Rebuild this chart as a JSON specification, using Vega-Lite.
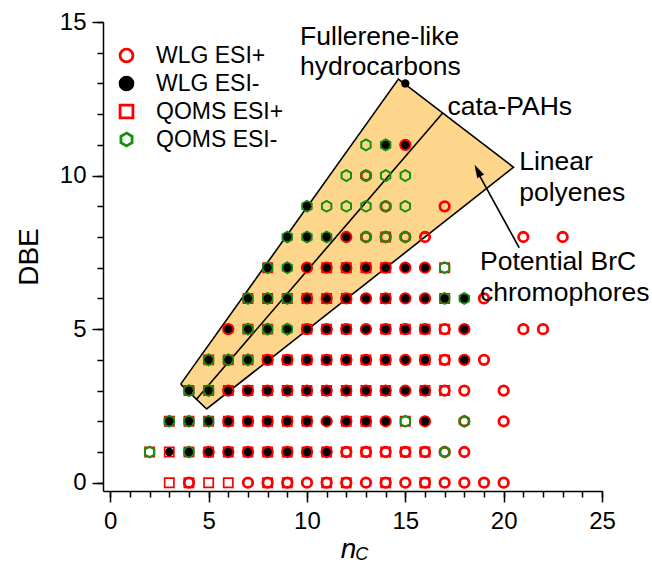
{
 "$schema": "https://vega.github.io/schema/vega-lite/v6.json",
 "width": 499, "height": 469,
 "autosize": {"type": "none"},
 "padding": {"left": 103, "top": 22, "right": 50, "bottom": 82},
 "background": "white",
 "config": {"view": {"stroke": null}, "font": "Liberation Sans"},
 "datasets": {
  "poly": [
   {"n": 3.58, "top": 3.21, "bot": 3.21},
   {"n": 4.90, "top": 4.394, "bot": 2.40},
   {"n": 14.65, "top": 13.14, "bot": 7.319},
   {"n": 20.50, "top": 10.27, "bot": 10.27}
  ],
  "lines": [
   {"g": "outline", "o": 1, "n": 3.58, "d": 3.21},
   {"g": "outline", "o": 2, "n": 14.65, "d": 13.14},
   {"g": "outline", "o": 3, "n": 20.50, "d": 10.27},
   {"g": "outline", "o": 4, "n": 4.90, "d": 2.40},
   {"g": "outline", "o": 5, "n": 3.58, "d": 3.21},
   {"g": "mid", "o": 1, "n": 4.36, "d": 2.70},
   {"g": "mid", "o": 2, "n": 16.89, "d": 12.03},
   {"g": "arrow", "o": 1, "n": 20.79, "d": 7.65},
   {"g": "arrow", "o": 2, "n": 18.6, "d": 10.2}
  ],
  "head": [{"n": 18.52, "d": 10.35}],
  "labels": [
   {"t": "Fullerene-like", "n": 9.65, "d": 14.51},
   {"t": "hydrocarbons", "n": 9.65, "d": 13.54},
   {"t": "cata-PAHs", "n": 17.14, "d": 12.24},
   {"t": "Linear", "n": 20.79, "d": 10.45},
   {"t": "polyenes", "n": 20.79, "d": 9.44},
   {"t": "Potential BrC", "n": 18.80, "d": 7.19},
   {"t": "chromophores", "n": 18.80, "d": 6.18}
  ],
  "sub": [{"t": "C", "n": 12.78, "d": -2.36}],
  "pts": [
   {"s":"WLG ESI+","n":4,"d":0},{"s":"WLG ESI+","n":7,"d":0},{"s":"WLG ESI+","n":8,"d":0},{"s":"WLG ESI+","n":9,"d":0},{"s":"WLG ESI+","n":10,"d":0},{"s":"WLG ESI+","n":11,"d":0},{"s":"WLG ESI+","n":12,"d":0},{"s":"WLG ESI+","n":13,"d":0},{"s":"WLG ESI+","n":14,"d":0},{"s":"WLG ESI+","n":15,"d":0},{"s":"WLG ESI+","n":16,"d":0},{"s":"WLG ESI+","n":17,"d":0},{"s":"WLG ESI+","n":18,"d":0},{"s":"WLG ESI+","n":19,"d":0},{"s":"WLG ESI+","n":20,"d":0},
   {"s":"WLG ESI+","n":5,"d":1},{"s":"WLG ESI+","n":6,"d":1},{"s":"WLG ESI+","n":7,"d":1},{"s":"WLG ESI+","n":8,"d":1},{"s":"WLG ESI+","n":9,"d":1},{"s":"WLG ESI+","n":10,"d":1},{"s":"WLG ESI+","n":11,"d":1},{"s":"WLG ESI+","n":12,"d":1},{"s":"WLG ESI+","n":13,"d":1},{"s":"WLG ESI+","n":14,"d":1},{"s":"WLG ESI+","n":15,"d":1},{"s":"WLG ESI+","n":16,"d":1},{"s":"WLG ESI+","n":17,"d":1},{"s":"WLG ESI+","n":18,"d":1},
   {"s":"WLG ESI+","n":6,"d":2},{"s":"WLG ESI+","n":7,"d":2},{"s":"WLG ESI+","n":8,"d":2},{"s":"WLG ESI+","n":9,"d":2},{"s":"WLG ESI+","n":10,"d":2},{"s":"WLG ESI+","n":11,"d":2},{"s":"WLG ESI+","n":12,"d":2},{"s":"WLG ESI+","n":13,"d":2},{"s":"WLG ESI+","n":14,"d":2},{"s":"WLG ESI+","n":16,"d":2},{"s":"WLG ESI+","n":18,"d":2},{"s":"WLG ESI+","n":20,"d":2},
   {"s":"WLG ESI+","n":6,"d":3},{"s":"WLG ESI+","n":7,"d":3},{"s":"WLG ESI+","n":8,"d":3},{"s":"WLG ESI+","n":9,"d":3},{"s":"WLG ESI+","n":10,"d":3},{"s":"WLG ESI+","n":11,"d":3},{"s":"WLG ESI+","n":12,"d":3},{"s":"WLG ESI+","n":13,"d":3},{"s":"WLG ESI+","n":14,"d":3},{"s":"WLG ESI+","n":15,"d":3},{"s":"WLG ESI+","n":16,"d":3},{"s":"WLG ESI+","n":17,"d":3},{"s":"WLG ESI+","n":18,"d":3},{"s":"WLG ESI+","n":20,"d":3},
   {"s":"WLG ESI+","n":8,"d":4},{"s":"WLG ESI+","n":9,"d":4},{"s":"WLG ESI+","n":10,"d":4},{"s":"WLG ESI+","n":11,"d":4},{"s":"WLG ESI+","n":12,"d":4},{"s":"WLG ESI+","n":13,"d":4},{"s":"WLG ESI+","n":14,"d":4},{"s":"WLG ESI+","n":15,"d":4},{"s":"WLG ESI+","n":16,"d":4},{"s":"WLG ESI+","n":17,"d":4},{"s":"WLG ESI+","n":18,"d":4},{"s":"WLG ESI+","n":19,"d":4},
   {"s":"WLG ESI+","n":6,"d":5},{"s":"WLG ESI+","n":10,"d":5},{"s":"WLG ESI+","n":11,"d":5},{"s":"WLG ESI+","n":12,"d":5},{"s":"WLG ESI+","n":13,"d":5},{"s":"WLG ESI+","n":14,"d":5},{"s":"WLG ESI+","n":15,"d":5},{"s":"WLG ESI+","n":16,"d":5},{"s":"WLG ESI+","n":17,"d":5},{"s":"WLG ESI+","n":18,"d":5},{"s":"WLG ESI+","n":21,"d":5},{"s":"WLG ESI+","n":22,"d":5},
   {"s":"WLG ESI+","n":10,"d":6},{"s":"WLG ESI+","n":11,"d":6},{"s":"WLG ESI+","n":12,"d":6},{"s":"WLG ESI+","n":13,"d":6},{"s":"WLG ESI+","n":14,"d":6},{"s":"WLG ESI+","n":15,"d":6},{"s":"WLG ESI+","n":16,"d":6},{"s":"WLG ESI+","n":19,"d":6},
   {"s":"WLG ESI+","n":10,"d":7},{"s":"WLG ESI+","n":11,"d":7},{"s":"WLG ESI+","n":12,"d":7},{"s":"WLG ESI+","n":13,"d":7},{"s":"WLG ESI+","n":14,"d":7},{"s":"WLG ESI+","n":15,"d":7},{"s":"WLG ESI+","n":16,"d":7},
   {"s":"WLG ESI+","n":12,"d":8},{"s":"WLG ESI+","n":13,"d":8},{"s":"WLG ESI+","n":14,"d":8},{"s":"WLG ESI+","n":15,"d":8},{"s":"WLG ESI+","n":16,"d":8},{"s":"WLG ESI+","n":21,"d":8},{"s":"WLG ESI+","n":23,"d":8},
   {"s":"WLG ESI+","n":14,"d":9},{"s":"WLG ESI+","n":17,"d":9},
   {"s":"WLG ESI+","n":13,"d":10},
   {"s":"WLG ESI+","n":15,"d":11},
   {"s":"QOMS ESI+","n":3,"d":0},{"s":"QOMS ESI+","n":4,"d":0},{"s":"QOMS ESI+","n":5,"d":0},{"s":"QOMS ESI+","n":6,"d":0},{"s":"QOMS ESI+","n":8,"d":0},{"s":"QOMS ESI+","n":9,"d":0},{"s":"QOMS ESI+","n":11,"d":0},{"s":"QOMS ESI+","n":12,"d":0},{"s":"QOMS ESI+","n":14,"d":0},{"s":"QOMS ESI+","n":16,"d":0},
   {"s":"QOMS ESI+","n":2,"d":1},{"s":"QOMS ESI+","n":3,"d":1},{"s":"QOMS ESI+","n":4,"d":1},{"s":"QOMS ESI+","n":5,"d":1},{"s":"QOMS ESI+","n":6,"d":1},{"s":"QOMS ESI+","n":7,"d":1},{"s":"QOMS ESI+","n":8,"d":1},{"s":"QOMS ESI+","n":9,"d":1},{"s":"QOMS ESI+","n":10,"d":1},{"s":"QOMS ESI+","n":11,"d":1},{"s":"QOMS ESI+","n":12,"d":1},{"s":"QOMS ESI+","n":13,"d":1},{"s":"QOMS ESI+","n":14,"d":1},{"s":"QOMS ESI+","n":15,"d":1},{"s":"QOMS ESI+","n":16,"d":1},
   {"s":"QOMS ESI+","n":3,"d":2},{"s":"QOMS ESI+","n":4,"d":2},{"s":"QOMS ESI+","n":5,"d":2},{"s":"QOMS ESI+","n":6,"d":2},{"s":"QOMS ESI+","n":7,"d":2},{"s":"QOMS ESI+","n":8,"d":2},{"s":"QOMS ESI+","n":9,"d":2},{"s":"QOMS ESI+","n":10,"d":2},{"s":"QOMS ESI+","n":12,"d":2},{"s":"QOMS ESI+","n":13,"d":2},{"s":"QOMS ESI+","n":15,"d":2},
   {"s":"QOMS ESI+","n":4,"d":3},{"s":"QOMS ESI+","n":5,"d":3},{"s":"QOMS ESI+","n":6,"d":3},{"s":"QOMS ESI+","n":7,"d":3},{"s":"QOMS ESI+","n":8,"d":3},{"s":"QOMS ESI+","n":9,"d":3},{"s":"QOMS ESI+","n":10,"d":3},{"s":"QOMS ESI+","n":11,"d":3},{"s":"QOMS ESI+","n":12,"d":3},{"s":"QOMS ESI+","n":13,"d":3},{"s":"QOMS ESI+","n":14,"d":3},{"s":"QOMS ESI+","n":16,"d":3},{"s":"QOMS ESI+","n":17,"d":3},
   {"s":"QOMS ESI+","n":5,"d":4},{"s":"QOMS ESI+","n":6,"d":4},{"s":"QOMS ESI+","n":7,"d":4},{"s":"QOMS ESI+","n":8,"d":4},{"s":"QOMS ESI+","n":9,"d":4},{"s":"QOMS ESI+","n":10,"d":4},{"s":"QOMS ESI+","n":11,"d":4},{"s":"QOMS ESI+","n":12,"d":4},{"s":"QOMS ESI+","n":13,"d":4},{"s":"QOMS ESI+","n":14,"d":4},{"s":"QOMS ESI+","n":16,"d":4},{"s":"QOMS ESI+","n":17,"d":4},
   {"s":"QOMS ESI+","n":7,"d":5},{"s":"QOMS ESI+","n":8,"d":5},{"s":"QOMS ESI+","n":10,"d":5},{"s":"QOMS ESI+","n":11,"d":5},{"s":"QOMS ESI+","n":12,"d":5},{"s":"QOMS ESI+","n":14,"d":5},{"s":"QOMS ESI+","n":15,"d":5},{"s":"QOMS ESI+","n":16,"d":5},{"s":"QOMS ESI+","n":17,"d":5},
   {"s":"QOMS ESI+","n":7,"d":6},{"s":"QOMS ESI+","n":8,"d":6},{"s":"QOMS ESI+","n":9,"d":6},{"s":"QOMS ESI+","n":10,"d":6},{"s":"QOMS ESI+","n":11,"d":6},{"s":"QOMS ESI+","n":12,"d":6},{"s":"QOMS ESI+","n":14,"d":6},{"s":"QOMS ESI+","n":17,"d":6},
   {"s":"QOMS ESI+","n":8,"d":7},{"s":"QOMS ESI+","n":11,"d":7},{"s":"QOMS ESI+","n":12,"d":7},{"s":"QOMS ESI+","n":13,"d":7},{"s":"QOMS ESI+","n":14,"d":7},{"s":"QOMS ESI+","n":17,"d":7},
   {"s":"QOMS ESI+","n":14,"d":8},
   {"s":"QOMS ESI-","n":2,"d":1},{"s":"QOMS ESI-","n":4,"d":1},{"s":"QOMS ESI-","n":17,"d":1},
   {"s":"QOMS ESI-","n":3,"d":2},{"s":"QOMS ESI-","n":4,"d":2},{"s":"QOMS ESI-","n":5,"d":2},{"s":"QOMS ESI-","n":15,"d":2},{"s":"QOMS ESI-","n":18,"d":2},
   {"s":"QOMS ESI-","n":4,"d":3},{"s":"QOMS ESI-","n":5,"d":3},
   {"s":"QOMS ESI-","n":5,"d":4},{"s":"QOMS ESI-","n":6,"d":4},{"s":"QOMS ESI-","n":7,"d":4},
   {"s":"QOMS ESI-","n":7,"d":5},{"s":"QOMS ESI-","n":8,"d":5},{"s":"QOMS ESI-","n":9,"d":5},
   {"s":"QOMS ESI-","n":7,"d":6},{"s":"QOMS ESI-","n":8,"d":6},{"s":"QOMS ESI-","n":9,"d":6},{"s":"QOMS ESI-","n":17,"d":6},{"s":"QOMS ESI-","n":18,"d":6},
   {"s":"QOMS ESI-","n":8,"d":7},{"s":"QOMS ESI-","n":9,"d":7},{"s":"QOMS ESI-","n":17,"d":7},
   {"s":"QOMS ESI-","n":9,"d":8},{"s":"QOMS ESI-","n":10,"d":8},{"s":"QOMS ESI-","n":11,"d":8},{"s":"QOMS ESI-","n":13,"d":8},{"s":"QOMS ESI-","n":14,"d":8},{"s":"QOMS ESI-","n":15,"d":8},
   {"s":"QOMS ESI-","n":10,"d":9},{"s":"QOMS ESI-","n":11,"d":9},{"s":"QOMS ESI-","n":12,"d":9},{"s":"QOMS ESI-","n":13,"d":9},{"s":"QOMS ESI-","n":14,"d":9},{"s":"QOMS ESI-","n":15,"d":9},
   {"s":"QOMS ESI-","n":12,"d":10},{"s":"QOMS ESI-","n":13,"d":10},{"s":"QOMS ESI-","n":14,"d":10},{"s":"QOMS ESI-","n":15,"d":10},
   {"s":"QOMS ESI-","n":13,"d":11},{"s":"QOMS ESI-","n":14,"d":11},
   {"s":"WLG ESI-","n":3,"d":1},{"s":"WLG ESI-","n":4,"d":1},{"s":"WLG ESI-","n":5,"d":1},{"s":"WLG ESI-","n":6,"d":1},{"s":"WLG ESI-","n":7,"d":1},{"s":"WLG ESI-","n":8,"d":1},{"s":"WLG ESI-","n":9,"d":1},{"s":"WLG ESI-","n":10,"d":1},{"s":"WLG ESI-","n":11,"d":1},
   {"s":"WLG ESI-","n":3,"d":2},{"s":"WLG ESI-","n":4,"d":2},{"s":"WLG ESI-","n":5,"d":2},{"s":"WLG ESI-","n":6,"d":2},{"s":"WLG ESI-","n":7,"d":2},{"s":"WLG ESI-","n":8,"d":2},{"s":"WLG ESI-","n":9,"d":2},{"s":"WLG ESI-","n":10,"d":2},{"s":"WLG ESI-","n":11,"d":2},{"s":"WLG ESI-","n":12,"d":2},{"s":"WLG ESI-","n":13,"d":2},{"s":"WLG ESI-","n":14,"d":2},{"s":"WLG ESI-","n":16,"d":2},
   {"s":"WLG ESI-","n":4,"d":3},{"s":"WLG ESI-","n":5,"d":3},{"s":"WLG ESI-","n":6,"d":3},{"s":"WLG ESI-","n":7,"d":3},{"s":"WLG ESI-","n":8,"d":3},{"s":"WLG ESI-","n":9,"d":3},{"s":"WLG ESI-","n":10,"d":3},{"s":"WLG ESI-","n":11,"d":3},{"s":"WLG ESI-","n":12,"d":3},{"s":"WLG ESI-","n":13,"d":3},{"s":"WLG ESI-","n":14,"d":3},{"s":"WLG ESI-","n":15,"d":3},{"s":"WLG ESI-","n":16,"d":3},
   {"s":"WLG ESI-","n":5,"d":4},{"s":"WLG ESI-","n":6,"d":4},{"s":"WLG ESI-","n":7,"d":4},{"s":"WLG ESI-","n":8,"d":4},{"s":"WLG ESI-","n":9,"d":4},{"s":"WLG ESI-","n":10,"d":4},{"s":"WLG ESI-","n":11,"d":4},{"s":"WLG ESI-","n":12,"d":4},{"s":"WLG ESI-","n":13,"d":4},{"s":"WLG ESI-","n":14,"d":4},{"s":"WLG ESI-","n":15,"d":4},{"s":"WLG ESI-","n":16,"d":4},{"s":"WLG ESI-","n":18,"d":4},
   {"s":"WLG ESI-","n":6,"d":5},{"s":"WLG ESI-","n":7,"d":5},{"s":"WLG ESI-","n":8,"d":5},{"s":"WLG ESI-","n":9,"d":5},{"s":"WLG ESI-","n":10,"d":5},{"s":"WLG ESI-","n":11,"d":5},{"s":"WLG ESI-","n":12,"d":5},{"s":"WLG ESI-","n":13,"d":5},{"s":"WLG ESI-","n":14,"d":5},{"s":"WLG ESI-","n":15,"d":5},{"s":"WLG ESI-","n":16,"d":5},{"s":"WLG ESI-","n":18,"d":5},
   {"s":"WLG ESI-","n":7,"d":6},{"s":"WLG ESI-","n":8,"d":6},{"s":"WLG ESI-","n":9,"d":6},{"s":"WLG ESI-","n":10,"d":6},{"s":"WLG ESI-","n":11,"d":6},{"s":"WLG ESI-","n":12,"d":6},{"s":"WLG ESI-","n":13,"d":6},{"s":"WLG ESI-","n":14,"d":6},{"s":"WLG ESI-","n":15,"d":6},{"s":"WLG ESI-","n":16,"d":6},{"s":"WLG ESI-","n":17,"d":6},{"s":"WLG ESI-","n":18,"d":6},
   {"s":"WLG ESI-","n":8,"d":7},{"s":"WLG ESI-","n":9,"d":7},{"s":"WLG ESI-","n":10,"d":7},{"s":"WLG ESI-","n":11,"d":7},{"s":"WLG ESI-","n":12,"d":7},{"s":"WLG ESI-","n":13,"d":7},{"s":"WLG ESI-","n":14,"d":7},{"s":"WLG ESI-","n":15,"d":7},{"s":"WLG ESI-","n":16,"d":7},
   {"s":"WLG ESI-","n":9,"d":8},{"s":"WLG ESI-","n":10,"d":8},{"s":"WLG ESI-","n":11,"d":8},{"s":"WLG ESI-","n":12,"d":8},
   {"s":"WLG ESI-","n":10,"d":9},
   {"s":"WLG ESI-","n":14,"d":11},{"s":"WLG ESI-","n":15,"d":11},
   {"s":"WLG ESI-","n":15,"d":13}
  ]
 },
 "layer": [
  {
   "data": {"name": "poly"},
   "mark": {"type": "area", "color": "#FDD68C", "opacity": 1},
   "encoding": {
    "x": {"field": "n", "type": "quantitative", "scale": {"domain": [-0.37, 25], "nice": false, "zero": false},
     "axis": {"orient": "bottom", "values": [0, 5, 10, 15, 20, 25], "tickSize": 11, "tickWidth": 1.5, "tickColor": "black", "domainColor": "black", "domainWidth": 1.5, "labelFontSize": 24, "labelColor": "black", "labelPadding": 7, "labelFlush": false, "labelFont": "Liberation Sans", "grid": false, "title": "n", "titleFont": "Liberation Sans", "titleFontSize": 28, "titleFontStyle": "italic", "titleFontWeight": "normal", "titleColor": "black", "titlePadding": 2, "titleX": 245, "titleAlign": "center"}},
    "y": {"field": "top", "type": "quantitative", "scale": {"domain": [-0.27, 15], "nice": false, "zero": false},
     "axis": {"orient": "left", "values": [0, 5, 10, 15], "tickSize": 11, "tickWidth": 1.5, "tickColor": "black", "domainColor": "black", "domainWidth": 1.5, "labelFontSize": 24, "labelColor": "black", "labelPadding": 6, "labelFont": "Liberation Sans", "grid": false, "title": "DBE", "titleFont": "Liberation Sans", "titleFontSize": 28, "titleFontWeight": "normal", "titleColor": "black", "titlePadding": 16}},
    "y2": {"field": "bot"}
   }
  },
  {
   "data": {"name": "lines"},
   "mark": {"type": "line", "color": "black", "strokeWidth": 1.6},
   "encoding": {
    "x": {"field": "n", "type": "quantitative", "scale": {"domain": [-0.37, 25], "nice": false, "zero": false},
     "axis": {"orient": "bottom", "values": [0,1,2,3,4,5,6,7,8,9,10,11,12,13,14,15,16,17,18,19,20,21,22,23,24,25], "tickSize": 6, "tickWidth": 1.5, "tickColor": "black", "labels": false, "domain": false, "grid": false, "title": null}},
    "y": {"field": "d", "type": "quantitative", "scale": {"domain": [-0.27, 15], "nice": false, "zero": false},
     "axis": {"orient": "left", "values": [0,1,2,3,4,5,6,7,8,9,10,11,12,13,14,15], "tickSize": 6, "tickWidth": 1.5, "tickColor": "black", "labels": false, "domain": false, "grid": false, "title": null}},
    "detail": {"field": "g", "type": "nominal"},
    "order": {"field": "o", "type": "quantitative"}
   }
  },
  {
   "data": {"name": "head"},
   "mark": {"type": "point", "shape": "M0,0L-0.3,1L0.3,1Z", "filled": true, "color": "black", "opacity": 1, "size": 676, "angle": -28},
   "encoding": {
    "x": {"field": "n", "type": "quantitative", "axis": null},
    "y": {"field": "d", "type": "quantitative", "axis": null}
   }
  },
  {
   "data": {"name": "pts"},
   "mark": {"type": "point", "filled": true, "opacity": 1},
   "encoding": {
    "x": {"field": "n", "type": "quantitative", "axis": null},
    "y": {"field": "d", "type": "quantitative", "axis": null},
    "stroke": {"field": "s", "type": "nominal",
     "scale": {"domain": ["WLG ESI+", "WLG ESI-", "QOMS ESI+", "QOMS ESI-"], "range": ["#FF0000", "#000000", "#FF0000", "#13900F"]},
     "legend": {"orient": "none", "legendX": 12, "legendY": 22, "title": null, "padding": 0, "labelFontSize": 23, "labelFont": "Liberation Sans", "labelColor": "black", "labelOffset": 18, "rowPadding": 3, "symbolSize": 165, "symbolStrokeWidth": 2.8}},
    "fill": {"field": "s", "type": "nominal",
     "scale": {"domain": ["WLG ESI+", "WLG ESI-", "QOMS ESI+", "QOMS ESI-"], "range": ["transparent", "#000000", "transparent", "transparent"]}},
    "shape": {"field": "s", "type": "nominal",
     "scale": {"domain": ["WLG ESI+", "WLG ESI-", "QOMS ESI+", "QOMS ESI-"], "range": ["circle", "circle", "square", "M0,-1L0.866,-0.5L0.866,0.5L0,1L-0.866,0.5L-0.866,-0.5Z"]}},
    "size": {"condition": [{"test": "datum.s === 'WLG ESI-'", "value": 70}, {"test": "datum.s === 'QOMS ESI+'", "value": 85}, {"test": "datum.s === 'QOMS ESI-'", "value": 118}], "value": 90},
    "strokeWidth": {"condition": [{"test": "datum.s === 'WLG ESI-'", "value": 0}, {"test": "datum.s === 'QOMS ESI+'", "value": 1.7}, {"test": "datum.s === 'QOMS ESI-'", "value": 2}], "value": 2.8}
   }
  },
  {
   "data": {"name": "labels"},
   "mark": {"type": "text", "align": "left", "baseline": "middle", "fontSize": 26.5, "font": "Liberation Sans", "color": "black"},
   "encoding": {
    "x": {"field": "n", "type": "quantitative", "axis": null},
    "y": {"field": "d", "type": "quantitative", "axis": null},
    "text": {"field": "t"}
   }
  },
  {
   "data": {"name": "sub"},
   "mark": {"type": "text", "align": "center", "baseline": "middle", "fontSize": 18, "fontStyle": "italic", "font": "Liberation Sans", "color": "black"},
   "encoding": {
    "x": {"field": "n", "type": "quantitative", "axis": null},
    "y": {"field": "d", "type": "quantitative", "axis": null},
    "text": {"field": "t"}
   }
  }
 ],
 "resolve": {"axis": {"x": "independent", "y": "independent"}}
}
